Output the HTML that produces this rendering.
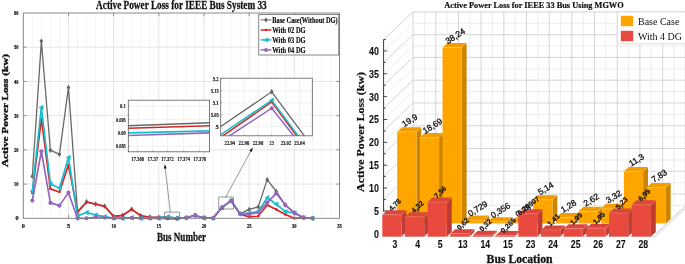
<!DOCTYPE html>
<html><head><meta charset="utf-8"><title>Active Power Loss</title>
<style>
html,body{margin:0;padding:0;background:#fff;}
body{width:685px;height:264px;overflow:hidden;font-family:"Liberation Sans",sans-serif;}
svg{display:block;filter:blur(0.4px);}
</style></head><body>
<svg width="685" height="264" viewBox="0 0 685 264">
<defs>
<clipPath id="clipL"><rect x="23.3" y="13.0" width="316.20" height="208.30"/></clipPath>
<clipPath id="clipJ"><rect x="220.7" y="78.2" width="91.60" height="57.60"/></clipPath>
</defs>
<rect width="685" height="264" fill="#fff"/>
<g id="left-chart">
<rect x="23.3" y="13.0" width="316.20" height="205.30" fill="#fff"/>
<line x1="32.33" y1="13.0" x2="32.33" y2="218.3" stroke="#f1f1f1" stroke-width="0.8"/>
<line x1="41.37" y1="13.0" x2="41.37" y2="218.3" stroke="#f1f1f1" stroke-width="0.8"/>
<line x1="50.40" y1="13.0" x2="50.40" y2="218.3" stroke="#f1f1f1" stroke-width="0.8"/>
<line x1="59.44" y1="13.0" x2="59.44" y2="218.3" stroke="#f1f1f1" stroke-width="0.8"/>
<line x1="77.51" y1="13.0" x2="77.51" y2="218.3" stroke="#f1f1f1" stroke-width="0.8"/>
<line x1="86.54" y1="13.0" x2="86.54" y2="218.3" stroke="#f1f1f1" stroke-width="0.8"/>
<line x1="95.57" y1="13.0" x2="95.57" y2="218.3" stroke="#f1f1f1" stroke-width="0.8"/>
<line x1="104.61" y1="13.0" x2="104.61" y2="218.3" stroke="#f1f1f1" stroke-width="0.8"/>
<line x1="122.68" y1="13.0" x2="122.68" y2="218.3" stroke="#f1f1f1" stroke-width="0.8"/>
<line x1="131.71" y1="13.0" x2="131.71" y2="218.3" stroke="#f1f1f1" stroke-width="0.8"/>
<line x1="140.75" y1="13.0" x2="140.75" y2="218.3" stroke="#f1f1f1" stroke-width="0.8"/>
<line x1="149.78" y1="13.0" x2="149.78" y2="218.3" stroke="#f1f1f1" stroke-width="0.8"/>
<line x1="167.85" y1="13.0" x2="167.85" y2="218.3" stroke="#f1f1f1" stroke-width="0.8"/>
<line x1="176.88" y1="13.0" x2="176.88" y2="218.3" stroke="#f1f1f1" stroke-width="0.8"/>
<line x1="185.92" y1="13.0" x2="185.92" y2="218.3" stroke="#f1f1f1" stroke-width="0.8"/>
<line x1="194.95" y1="13.0" x2="194.95" y2="218.3" stroke="#f1f1f1" stroke-width="0.8"/>
<line x1="213.02" y1="13.0" x2="213.02" y2="218.3" stroke="#f1f1f1" stroke-width="0.8"/>
<line x1="222.05" y1="13.0" x2="222.05" y2="218.3" stroke="#f1f1f1" stroke-width="0.8"/>
<line x1="231.09" y1="13.0" x2="231.09" y2="218.3" stroke="#f1f1f1" stroke-width="0.8"/>
<line x1="240.12" y1="13.0" x2="240.12" y2="218.3" stroke="#f1f1f1" stroke-width="0.8"/>
<line x1="258.19" y1="13.0" x2="258.19" y2="218.3" stroke="#f1f1f1" stroke-width="0.8"/>
<line x1="267.23" y1="13.0" x2="267.23" y2="218.3" stroke="#f1f1f1" stroke-width="0.8"/>
<line x1="276.26" y1="13.0" x2="276.26" y2="218.3" stroke="#f1f1f1" stroke-width="0.8"/>
<line x1="285.29" y1="13.0" x2="285.29" y2="218.3" stroke="#f1f1f1" stroke-width="0.8"/>
<line x1="303.36" y1="13.0" x2="303.36" y2="218.3" stroke="#f1f1f1" stroke-width="0.8"/>
<line x1="312.40" y1="13.0" x2="312.40" y2="218.3" stroke="#f1f1f1" stroke-width="0.8"/>
<line x1="321.43" y1="13.0" x2="321.43" y2="218.3" stroke="#f1f1f1" stroke-width="0.8"/>
<line x1="330.47" y1="13.0" x2="330.47" y2="218.3" stroke="#f1f1f1" stroke-width="0.8"/>
<line x1="68.47" y1="13.0" x2="68.47" y2="218.3" stroke="#e2e2e2" stroke-width="0.9"/>
<line x1="113.64" y1="13.0" x2="113.64" y2="218.3" stroke="#e2e2e2" stroke-width="0.9"/>
<line x1="158.81" y1="13.0" x2="158.81" y2="218.3" stroke="#e2e2e2" stroke-width="0.9"/>
<line x1="203.99" y1="13.0" x2="203.99" y2="218.3" stroke="#e2e2e2" stroke-width="0.9"/>
<line x1="249.16" y1="13.0" x2="249.16" y2="218.3" stroke="#e2e2e2" stroke-width="0.9"/>
<line x1="294.33" y1="13.0" x2="294.33" y2="218.3" stroke="#e2e2e2" stroke-width="0.9"/>
<line x1="23.3" y1="184.08" x2="339.5" y2="184.08" stroke="#e2e2e2" stroke-width="0.9"/>
<line x1="23.3" y1="149.87" x2="339.5" y2="149.87" stroke="#e2e2e2" stroke-width="0.9"/>
<line x1="23.3" y1="115.65" x2="339.5" y2="115.65" stroke="#e2e2e2" stroke-width="0.9"/>
<line x1="23.3" y1="81.43" x2="339.5" y2="81.43" stroke="#e2e2e2" stroke-width="0.9"/>
<line x1="23.3" y1="47.22" x2="339.5" y2="47.22" stroke="#e2e2e2" stroke-width="0.9"/>
<g clip-path="url(#clipL)">
<polyline points="32.33,176.42 41.37,41.09 50.40,150.21 59.44,154.31 68.47,87.42 77.51,211.76 86.54,201.74 95.57,204.00 104.61,206.12 113.64,216.42 122.68,215.29 131.71,209.16 140.75,215.80 149.78,217.07 158.81,217.34 167.85,217.44 176.88,218.13 185.92,217.75 194.95,215.46 203.99,217.96 213.02,218.16 222.05,207.42 231.09,200.71 240.12,213.89 249.16,209.40 258.19,206.91 267.23,179.64 276.26,191.51 285.29,204.96 294.33,212.86 303.36,217.58 312.40,218.27" fill="none" stroke="#686868" stroke-width="1.3" stroke-linejoin="round"/>
<path d="M32.33,173.72L34.23,176.42L32.33,179.12L30.43,176.42Z" fill="#686868"/>
<path d="M41.37,38.39L43.27,41.09L41.37,43.79L39.47,41.09Z" fill="#686868"/>
<path d="M50.40,147.51L52.30,150.21L50.40,152.91L48.50,150.21Z" fill="#686868"/>
<path d="M59.44,151.61L61.34,154.31L59.44,157.01L57.54,154.31Z" fill="#686868"/>
<path d="M68.47,84.72L70.37,87.42L68.47,90.12L66.57,87.42Z" fill="#686868"/>
<path d="M77.51,209.06L79.41,211.76L77.51,214.46L75.61,211.76Z" fill="#686868"/>
<path d="M86.54,199.04L88.44,201.74L86.54,204.44L84.64,201.74Z" fill="#686868"/>
<path d="M95.57,201.30L97.47,204.00L95.57,206.70L93.67,204.00Z" fill="#686868"/>
<path d="M104.61,203.42L106.51,206.12L104.61,208.82L102.71,206.12Z" fill="#686868"/>
<path d="M113.64,213.72L115.54,216.42L113.64,219.12L111.74,216.42Z" fill="#686868"/>
<path d="M122.68,212.59L124.58,215.29L122.68,217.99L120.78,215.29Z" fill="#686868"/>
<path d="M131.71,206.46L133.61,209.16L131.71,211.86L129.81,209.16Z" fill="#686868"/>
<path d="M140.75,213.10L142.65,215.80L140.75,218.50L138.85,215.80Z" fill="#686868"/>
<path d="M149.78,214.37L151.68,217.07L149.78,219.77L147.88,217.07Z" fill="#686868"/>
<path d="M158.81,214.64L160.71,217.34L158.81,220.04L156.91,217.34Z" fill="#686868"/>
<path d="M167.85,214.74L169.75,217.44L167.85,220.14L165.95,217.44Z" fill="#686868"/>
<path d="M176.88,215.43L178.78,218.13L176.88,220.83L174.98,218.13Z" fill="#686868"/>
<path d="M185.92,215.05L187.82,217.75L185.92,220.45L184.02,217.75Z" fill="#686868"/>
<path d="M194.95,212.76L196.85,215.46L194.95,218.16L193.05,215.46Z" fill="#686868"/>
<path d="M203.99,215.26L205.89,217.96L203.99,220.66L202.09,217.96Z" fill="#686868"/>
<path d="M213.02,215.46L214.92,218.16L213.02,220.86L211.12,218.16Z" fill="#686868"/>
<path d="M222.05,204.72L223.95,207.42L222.05,210.12L220.15,207.42Z" fill="#686868"/>
<path d="M231.09,198.01L232.99,200.71L231.09,203.41L229.19,200.71Z" fill="#686868"/>
<path d="M240.12,211.19L242.02,213.89L240.12,216.59L238.22,213.89Z" fill="#686868"/>
<path d="M249.16,206.70L251.06,209.40L249.16,212.10L247.26,209.40Z" fill="#686868"/>
<path d="M258.19,204.21L260.09,206.91L258.19,209.61L256.29,206.91Z" fill="#686868"/>
<path d="M267.23,176.94L269.13,179.64L267.23,182.34L265.33,179.64Z" fill="#686868"/>
<path d="M276.26,188.81L278.16,191.51L276.26,194.21L274.36,191.51Z" fill="#686868"/>
<path d="M285.29,202.26L287.19,204.96L285.29,207.66L283.39,204.96Z" fill="#686868"/>
<path d="M294.33,210.16L296.23,212.86L294.33,215.56L292.43,212.86Z" fill="#686868"/>
<path d="M303.36,214.88L305.26,217.58L303.36,220.28L301.46,217.58Z" fill="#686868"/>
<path d="M312.40,215.57L314.30,218.27L312.40,220.97L310.50,218.27Z" fill="#686868"/>
<polyline points="32.33,192.98 41.37,118.73 50.40,188.87 59.44,191.95 68.47,164.92 77.51,212.14 86.54,202.22 95.57,204.27 104.61,206.32 113.64,216.42 122.68,215.29 131.71,209.40 140.75,215.80 149.78,217.07 158.81,217.34 167.85,217.44 176.88,218.13 185.92,217.75 194.95,215.46 203.99,217.96 213.02,218.16 222.05,207.42 231.09,200.71 240.12,214.19 249.16,216.93 258.19,216.25 267.23,204.96 276.26,209.40 285.29,214.54 294.33,218.30 303.36,217.96 312.40,218.30" fill="none" stroke="#d62728" stroke-width="1.7" stroke-linejoin="round"/>
<circle cx="32.33" cy="192.98" r="1.3" fill="#d62728"/>
<circle cx="41.37" cy="118.73" r="1.3" fill="#d62728"/>
<circle cx="50.40" cy="188.87" r="1.3" fill="#d62728"/>
<circle cx="59.44" cy="191.95" r="1.3" fill="#d62728"/>
<circle cx="68.47" cy="164.92" r="1.3" fill="#d62728"/>
<circle cx="77.51" cy="212.14" r="1.3" fill="#d62728"/>
<circle cx="86.54" cy="202.22" r="1.3" fill="#d62728"/>
<circle cx="95.57" cy="204.27" r="1.3" fill="#d62728"/>
<circle cx="104.61" cy="206.32" r="1.3" fill="#d62728"/>
<circle cx="113.64" cy="216.42" r="1.3" fill="#d62728"/>
<circle cx="122.68" cy="215.29" r="1.3" fill="#d62728"/>
<circle cx="131.71" cy="209.40" r="1.3" fill="#d62728"/>
<circle cx="140.75" cy="215.80" r="1.3" fill="#d62728"/>
<circle cx="149.78" cy="217.07" r="1.3" fill="#d62728"/>
<circle cx="158.81" cy="217.34" r="1.3" fill="#d62728"/>
<circle cx="167.85" cy="217.44" r="1.3" fill="#d62728"/>
<circle cx="176.88" cy="218.13" r="1.3" fill="#d62728"/>
<circle cx="185.92" cy="217.75" r="1.3" fill="#d62728"/>
<circle cx="194.95" cy="215.46" r="1.3" fill="#d62728"/>
<circle cx="203.99" cy="217.96" r="1.3" fill="#d62728"/>
<circle cx="213.02" cy="218.16" r="1.3" fill="#d62728"/>
<circle cx="222.05" cy="207.42" r="1.3" fill="#d62728"/>
<circle cx="231.09" cy="200.71" r="1.3" fill="#d62728"/>
<circle cx="240.12" cy="214.19" r="1.3" fill="#d62728"/>
<circle cx="249.16" cy="216.93" r="1.3" fill="#d62728"/>
<circle cx="258.19" cy="216.25" r="1.3" fill="#d62728"/>
<circle cx="267.23" cy="204.96" r="1.3" fill="#d62728"/>
<circle cx="276.26" cy="209.40" r="1.3" fill="#d62728"/>
<circle cx="285.29" cy="214.54" r="1.3" fill="#d62728"/>
<circle cx="294.33" cy="218.30" r="1.3" fill="#d62728"/>
<circle cx="303.36" cy="217.96" r="1.3" fill="#d62728"/>
<circle cx="312.40" cy="218.30" r="1.3" fill="#d62728"/>
<polyline points="32.33,191.27 41.37,107.44 50.40,183.74 59.44,188.19 68.47,157.39 77.51,215.90 86.54,212.48 95.57,214.88 104.61,216.59 113.64,218.13 122.68,218.13 131.71,217.79 140.75,218.13 149.78,218.13 158.81,218.13 167.85,216.76 176.88,218.13 185.92,217.75 194.95,215.46 203.99,217.96 213.02,218.16 222.05,207.42 231.09,200.71 240.12,213.89 249.16,213.17 258.19,211.46 267.23,197.77 276.26,204.27 285.29,211.46 294.33,213.00 303.36,217.58 312.40,218.27" fill="none" stroke="#17becf" stroke-width="1.7" stroke-linejoin="round"/>
<path d="M29.63,191.27L34.49,188.57L34.49,193.97Z" fill="#17becf"/>
<path d="M38.67,107.44L43.53,104.74L43.53,110.14Z" fill="#17becf"/>
<path d="M47.70,183.74L52.56,181.04L52.56,186.44Z" fill="#17becf"/>
<path d="M56.74,188.19L61.60,185.49L61.60,190.89Z" fill="#17becf"/>
<path d="M65.77,157.39L70.63,154.69L70.63,160.09Z" fill="#17becf"/>
<path d="M74.81,215.90L79.67,213.20L79.67,218.60Z" fill="#17becf"/>
<path d="M83.84,212.48L88.70,209.78L88.70,215.18Z" fill="#17becf"/>
<path d="M92.87,214.88L97.73,212.18L97.73,217.58Z" fill="#17becf"/>
<path d="M101.91,216.59L106.77,213.89L106.77,219.29Z" fill="#17becf"/>
<path d="M110.94,218.13L115.80,215.43L115.80,220.83Z" fill="#17becf"/>
<path d="M119.98,218.13L124.84,215.43L124.84,220.83Z" fill="#17becf"/>
<path d="M129.01,217.79L133.87,215.09L133.87,220.49Z" fill="#17becf"/>
<path d="M138.05,218.13L142.91,215.43L142.91,220.83Z" fill="#17becf"/>
<path d="M147.08,218.13L151.94,215.43L151.94,220.83Z" fill="#17becf"/>
<path d="M156.11,218.13L160.97,215.43L160.97,220.83Z" fill="#17becf"/>
<path d="M165.15,216.76L170.01,214.06L170.01,219.46Z" fill="#17becf"/>
<path d="M174.18,218.13L179.04,215.43L179.04,220.83Z" fill="#17becf"/>
<path d="M183.22,217.75L188.08,215.05L188.08,220.45Z" fill="#17becf"/>
<path d="M192.25,215.46L197.11,212.76L197.11,218.16Z" fill="#17becf"/>
<path d="M201.29,217.96L206.15,215.26L206.15,220.66Z" fill="#17becf"/>
<path d="M210.32,218.16L215.18,215.46L215.18,220.86Z" fill="#17becf"/>
<path d="M219.35,207.42L224.21,204.72L224.21,210.12Z" fill="#17becf"/>
<path d="M228.39,200.71L233.25,198.01L233.25,203.41Z" fill="#17becf"/>
<path d="M237.42,213.89L242.28,211.19L242.28,216.59Z" fill="#17becf"/>
<path d="M246.46,213.17L251.32,210.47L251.32,215.87Z" fill="#17becf"/>
<path d="M255.49,211.46L260.35,208.76L260.35,214.16Z" fill="#17becf"/>
<path d="M264.53,197.77L269.39,195.07L269.39,200.47Z" fill="#17becf"/>
<path d="M273.56,204.27L278.42,201.57L278.42,206.97Z" fill="#17becf"/>
<path d="M282.59,211.46L287.45,208.76L287.45,214.16Z" fill="#17becf"/>
<path d="M291.63,213.00L296.49,210.30L296.49,215.70Z" fill="#17becf"/>
<path d="M300.66,217.58L305.52,214.88L305.52,220.28Z" fill="#17becf"/>
<path d="M309.70,218.27L314.56,215.57L314.56,220.97Z" fill="#17becf"/>
<polyline points="32.33,200.51 41.37,151.24 50.40,202.90 59.44,205.64 68.47,192.64 77.51,218.30 86.54,218.30 95.57,217.27 104.61,217.62 113.64,218.30 122.68,218.30 131.71,217.79 140.75,218.30 149.78,218.30 158.81,218.30 167.85,218.30 176.88,218.81 185.92,217.75 194.95,215.46 203.99,217.96 213.02,218.16 222.05,207.42 231.09,200.71 240.12,213.89 249.16,214.19 258.19,212.48 267.23,202.56 276.26,193.32 285.29,204.96 294.33,212.86 303.36,217.58 312.40,218.27" fill="none" stroke="#9467bd" stroke-width="1.7" stroke-linejoin="round"/>
<circle cx="32.33" cy="200.51" r="2.1" fill="#9467bd"/>
<circle cx="41.37" cy="151.24" r="2.1" fill="#9467bd"/>
<circle cx="50.40" cy="202.90" r="2.1" fill="#9467bd"/>
<circle cx="59.44" cy="205.64" r="2.1" fill="#9467bd"/>
<circle cx="68.47" cy="192.64" r="2.1" fill="#9467bd"/>
<circle cx="77.51" cy="218.30" r="2.1" fill="#9467bd"/>
<circle cx="86.54" cy="218.30" r="2.1" fill="#9467bd"/>
<circle cx="95.57" cy="217.27" r="2.1" fill="#9467bd"/>
<circle cx="104.61" cy="217.62" r="2.1" fill="#9467bd"/>
<circle cx="113.64" cy="218.30" r="2.1" fill="#9467bd"/>
<circle cx="122.68" cy="218.30" r="2.1" fill="#9467bd"/>
<circle cx="131.71" cy="217.79" r="2.1" fill="#9467bd"/>
<circle cx="140.75" cy="218.30" r="2.1" fill="#9467bd"/>
<circle cx="149.78" cy="218.30" r="2.1" fill="#9467bd"/>
<circle cx="158.81" cy="218.30" r="2.1" fill="#9467bd"/>
<circle cx="167.85" cy="218.30" r="2.1" fill="#9467bd"/>
<circle cx="176.88" cy="218.81" r="2.1" fill="#9467bd"/>
<circle cx="185.92" cy="217.75" r="2.1" fill="#9467bd"/>
<circle cx="194.95" cy="215.46" r="2.1" fill="#9467bd"/>
<circle cx="203.99" cy="217.96" r="2.1" fill="#9467bd"/>
<circle cx="213.02" cy="218.16" r="2.1" fill="#9467bd"/>
<circle cx="222.05" cy="207.42" r="2.1" fill="#9467bd"/>
<circle cx="231.09" cy="200.71" r="2.1" fill="#9467bd"/>
<circle cx="240.12" cy="213.89" r="2.1" fill="#9467bd"/>
<circle cx="249.16" cy="214.19" r="2.1" fill="#9467bd"/>
<circle cx="258.19" cy="212.48" r="2.1" fill="#9467bd"/>
<circle cx="267.23" cy="202.56" r="2.1" fill="#9467bd"/>
<circle cx="276.26" cy="193.32" r="2.1" fill="#9467bd"/>
<circle cx="285.29" cy="204.96" r="2.1" fill="#9467bd"/>
<circle cx="294.33" cy="212.86" r="2.1" fill="#9467bd"/>
<circle cx="303.36" cy="217.58" r="2.1" fill="#9467bd"/>
<circle cx="312.40" cy="218.27" r="2.1" fill="#9467bd"/>
</g>
<rect x="23.3" y="13.0" width="316.20" height="205.30" fill="none" stroke="#7c7c7c" stroke-width="0.9"/>
<line x1="68.47" y1="218.3" x2="68.47" y2="215.10000000000002" stroke="#7c7c7c" stroke-width="0.8"/>
<line x1="68.47" y1="13.0" x2="68.47" y2="16.2" stroke="#7c7c7c" stroke-width="0.8"/>
<line x1="113.64" y1="218.3" x2="113.64" y2="215.10000000000002" stroke="#7c7c7c" stroke-width="0.8"/>
<line x1="113.64" y1="13.0" x2="113.64" y2="16.2" stroke="#7c7c7c" stroke-width="0.8"/>
<line x1="158.81" y1="218.3" x2="158.81" y2="215.10000000000002" stroke="#7c7c7c" stroke-width="0.8"/>
<line x1="158.81" y1="13.0" x2="158.81" y2="16.2" stroke="#7c7c7c" stroke-width="0.8"/>
<line x1="203.99" y1="218.3" x2="203.99" y2="215.10000000000002" stroke="#7c7c7c" stroke-width="0.8"/>
<line x1="203.99" y1="13.0" x2="203.99" y2="16.2" stroke="#7c7c7c" stroke-width="0.8"/>
<line x1="249.16" y1="218.3" x2="249.16" y2="215.10000000000002" stroke="#7c7c7c" stroke-width="0.8"/>
<line x1="249.16" y1="13.0" x2="249.16" y2="16.2" stroke="#7c7c7c" stroke-width="0.8"/>
<line x1="294.33" y1="218.3" x2="294.33" y2="215.10000000000002" stroke="#7c7c7c" stroke-width="0.8"/>
<line x1="294.33" y1="13.0" x2="294.33" y2="16.2" stroke="#7c7c7c" stroke-width="0.8"/>
<line x1="23.3" y1="184.08" x2="26.5" y2="184.08" stroke="#7c7c7c" stroke-width="0.8"/>
<line x1="339.5" y1="184.08" x2="336.3" y2="184.08" stroke="#7c7c7c" stroke-width="0.8"/>
<line x1="23.3" y1="149.87" x2="26.5" y2="149.87" stroke="#7c7c7c" stroke-width="0.8"/>
<line x1="339.5" y1="149.87" x2="336.3" y2="149.87" stroke="#7c7c7c" stroke-width="0.8"/>
<line x1="23.3" y1="115.65" x2="26.5" y2="115.65" stroke="#7c7c7c" stroke-width="0.8"/>
<line x1="339.5" y1="115.65" x2="336.3" y2="115.65" stroke="#7c7c7c" stroke-width="0.8"/>
<line x1="23.3" y1="81.43" x2="26.5" y2="81.43" stroke="#7c7c7c" stroke-width="0.8"/>
<line x1="339.5" y1="81.43" x2="336.3" y2="81.43" stroke="#7c7c7c" stroke-width="0.8"/>
<line x1="23.3" y1="47.22" x2="26.5" y2="47.22" stroke="#7c7c7c" stroke-width="0.8"/>
<line x1="339.5" y1="47.22" x2="336.3" y2="47.22" stroke="#7c7c7c" stroke-width="0.8"/>
<text x="23.30" y="227.80" font-size="6.3" font-family="Liberation Serif, serif" font-weight="bold" text-anchor="middle" fill="#111"  stroke="#111" stroke-width="0.22">0</text>
<text x="68.47" y="227.80" font-size="6.3" font-family="Liberation Serif, serif" font-weight="bold" text-anchor="middle" fill="#111"  stroke="#111" stroke-width="0.22">5</text>
<text x="113.64" y="227.80" font-size="6.3" font-family="Liberation Serif, serif" font-weight="bold" text-anchor="middle" fill="#111" textLength="4.50" lengthAdjust="spacingAndGlyphs"  stroke="#111" stroke-width="0.22">10</text>
<text x="158.81" y="227.80" font-size="6.3" font-family="Liberation Serif, serif" font-weight="bold" text-anchor="middle" fill="#111" textLength="4.50" lengthAdjust="spacingAndGlyphs"  stroke="#111" stroke-width="0.22">15</text>
<text x="203.99" y="227.80" font-size="6.3" font-family="Liberation Serif, serif" font-weight="bold" text-anchor="middle" fill="#111" textLength="4.50" lengthAdjust="spacingAndGlyphs"  stroke="#111" stroke-width="0.22">20</text>
<text x="249.16" y="227.80" font-size="6.3" font-family="Liberation Serif, serif" font-weight="bold" text-anchor="middle" fill="#111" textLength="4.50" lengthAdjust="spacingAndGlyphs"  stroke="#111" stroke-width="0.22">25</text>
<text x="294.33" y="227.80" font-size="6.3" font-family="Liberation Serif, serif" font-weight="bold" text-anchor="middle" fill="#111" textLength="4.50" lengthAdjust="spacingAndGlyphs"  stroke="#111" stroke-width="0.22">30</text>
<text x="339.50" y="227.80" font-size="6.3" font-family="Liberation Serif, serif" font-weight="bold" text-anchor="middle" fill="#111" textLength="4.50" lengthAdjust="spacingAndGlyphs"  stroke="#111" stroke-width="0.22">35</text>
<text x="18.60" y="220.40" font-size="6.3" font-family="Liberation Serif, serif" font-weight="bold" text-anchor="end" fill="#111"  stroke="#111" stroke-width="0.22">0</text>
<text x="18.60" y="186.18" font-size="6.3" font-family="Liberation Serif, serif" font-weight="bold" text-anchor="end" fill="#111" textLength="4.50" lengthAdjust="spacingAndGlyphs"  stroke="#111" stroke-width="0.22">10</text>
<text x="18.60" y="151.97" font-size="6.3" font-family="Liberation Serif, serif" font-weight="bold" text-anchor="end" fill="#111" textLength="4.50" lengthAdjust="spacingAndGlyphs"  stroke="#111" stroke-width="0.22">20</text>
<text x="18.60" y="117.75" font-size="6.3" font-family="Liberation Serif, serif" font-weight="bold" text-anchor="end" fill="#111" textLength="4.50" lengthAdjust="spacingAndGlyphs"  stroke="#111" stroke-width="0.22">30</text>
<text x="18.60" y="83.53" font-size="6.3" font-family="Liberation Serif, serif" font-weight="bold" text-anchor="end" fill="#111" textLength="4.50" lengthAdjust="spacingAndGlyphs"  stroke="#111" stroke-width="0.22">40</text>
<text x="18.60" y="49.32" font-size="6.3" font-family="Liberation Serif, serif" font-weight="bold" text-anchor="end" fill="#111" textLength="4.50" lengthAdjust="spacingAndGlyphs"  stroke="#111" stroke-width="0.22">50</text>
<text x="18.60" y="15.10" font-size="6.3" font-family="Liberation Serif, serif" font-weight="bold" text-anchor="end" fill="#111" textLength="4.50" lengthAdjust="spacingAndGlyphs"  stroke="#111" stroke-width="0.22">60</text>
<text x="181.40" y="8.90" font-size="11.6" font-family="Liberation Serif, serif" font-weight="bold" text-anchor="middle" fill="#111" textLength="170.60" lengthAdjust="spacingAndGlyphs"  stroke="#111" stroke-width="0.26">Active Power Loss for IEEE Bus System 33</text>
<text x="181.50" y="240.60" font-size="12.2" font-family="Liberation Serif, serif" font-weight="bold" text-anchor="middle" fill="#111" textLength="49.20" lengthAdjust="spacingAndGlyphs"  stroke="#111" stroke-width="0.27">Bus Number</text>
<g transform="translate(8.3,110.5) rotate(-90)">
<text x="0.00" y="0.00" font-size="8.6" font-family="Liberation Serif, serif" font-weight="bold" text-anchor="middle" fill="#111" textLength="113.00" lengthAdjust="spacingAndGlyphs" stroke="#111" stroke-width="0.35">Active Power Loss (kw)</text>
</g>
<rect x="164.8" y="212.1" width="14.6" height="6.9" fill="none" stroke="#555" stroke-width="0.6"/>
<rect x="218.8" y="197.0" width="14.5" height="12" fill="none" stroke="#555" stroke-width="0.6"/>
<line x1="170.3" y1="212.0" x2="164.8" y2="164.5" stroke="#333" stroke-width="0.5"/>
<path d="M164.80,164.50L166.65,168.31L163.87,168.63Z" fill="#111"/>
<line x1="225.5" y1="197.5" x2="252.6" y2="147.7" stroke="#333" stroke-width="0.5"/>
<path d="M252.60,147.70L251.92,151.88L249.46,150.54Z" fill="#111"/>
<rect x="128.3" y="100.2" width="81.30" height="51.60" fill="#fff"/>
<line x1="137.7" y1="100.2" x2="137.7" y2="151.8" stroke="#eeeeee" stroke-width="0.8"/>
<line x1="152.8" y1="100.2" x2="152.8" y2="151.8" stroke="#eeeeee" stroke-width="0.8"/>
<line x1="167.5" y1="100.2" x2="167.5" y2="151.8" stroke="#eeeeee" stroke-width="0.8"/>
<line x1="183.7" y1="100.2" x2="183.7" y2="151.8" stroke="#eeeeee" stroke-width="0.8"/>
<line x1="199.7" y1="100.2" x2="199.7" y2="151.8" stroke="#eeeeee" stroke-width="0.8"/>
<line x1="128.3" y1="106.2" x2="209.6" y2="106.2" stroke="#eeeeee" stroke-width="0.8"/>
<line x1="128.3" y1="119.6" x2="209.6" y2="119.6" stroke="#eeeeee" stroke-width="0.8"/>
<line x1="128.3" y1="133.2" x2="209.6" y2="133.2" stroke="#eeeeee" stroke-width="0.8"/>
<line x1="128.3" y1="146.3" x2="209.6" y2="146.3" stroke="#eeeeee" stroke-width="0.8"/>
<line x1="128.3" y1="125.8" x2="209.6" y2="122.7" stroke="#686868" stroke-width="1.4"/>
<line x1="128.3" y1="128.2" x2="209.6" y2="125.8" stroke="#d62728" stroke-width="1.6"/>
<line x1="128.3" y1="132.9" x2="209.6" y2="130.9" stroke="#17becf" stroke-width="1.6"/>
<line x1="128.3" y1="135.5" x2="209.6" y2="132.9" stroke="#9467bd" stroke-width="1.6"/>
<rect x="128.3" y="100.2" width="81.30" height="51.60" fill="none" stroke="#5c5c5c" stroke-width="0.8"/>
<line x1="137.7" y1="151.8" x2="137.7" y2="150.3" stroke="#7c7c7c" stroke-width="0.6"/>
<text x="137.70" y="161.30" font-size="6.4" font-family="Liberation Serif, serif" font-weight="bold" text-anchor="middle" fill="#111" textLength="12.60" lengthAdjust="spacingAndGlyphs"  stroke="#111" stroke-width="0.14">17.368</text>
<line x1="152.8" y1="151.8" x2="152.8" y2="150.3" stroke="#7c7c7c" stroke-width="0.6"/>
<text x="152.80" y="161.30" font-size="6.4" font-family="Liberation Serif, serif" font-weight="bold" text-anchor="middle" fill="#111" textLength="10.50" lengthAdjust="spacingAndGlyphs"  stroke="#111" stroke-width="0.14">17.37</text>
<line x1="167.5" y1="151.8" x2="167.5" y2="150.3" stroke="#7c7c7c" stroke-width="0.6"/>
<text x="167.50" y="161.30" font-size="6.4" font-family="Liberation Serif, serif" font-weight="bold" text-anchor="middle" fill="#111" textLength="12.60" lengthAdjust="spacingAndGlyphs"  stroke="#111" stroke-width="0.14">17.372</text>
<line x1="183.7" y1="151.8" x2="183.7" y2="150.3" stroke="#7c7c7c" stroke-width="0.6"/>
<text x="183.70" y="161.30" font-size="6.4" font-family="Liberation Serif, serif" font-weight="bold" text-anchor="middle" fill="#111" textLength="12.60" lengthAdjust="spacingAndGlyphs"  stroke="#111" stroke-width="0.14">17.374</text>
<line x1="199.7" y1="151.8" x2="199.7" y2="150.3" stroke="#7c7c7c" stroke-width="0.6"/>
<text x="199.70" y="161.30" font-size="6.4" font-family="Liberation Serif, serif" font-weight="bold" text-anchor="middle" fill="#111" textLength="12.60" lengthAdjust="spacingAndGlyphs"  stroke="#111" stroke-width="0.14">17.376</text>
<line x1="128.3" y1="106.2" x2="129.8" y2="106.2" stroke="#7c7c7c" stroke-width="0.6"/>
<text x="125.80" y="108.20" font-size="6.5" font-family="Liberation Serif, serif" font-weight="bold" text-anchor="end" fill="#111" textLength="5.91" lengthAdjust="spacingAndGlyphs"  stroke="#111" stroke-width="0.14">0.1</text>
<line x1="128.3" y1="119.6" x2="129.8" y2="119.6" stroke="#7c7c7c" stroke-width="0.6"/>
<text x="125.80" y="121.60" font-size="6.5" font-family="Liberation Serif, serif" font-weight="bold" text-anchor="end" fill="#111" textLength="9.85" lengthAdjust="spacingAndGlyphs"  stroke="#111" stroke-width="0.14">0.095</text>
<line x1="128.3" y1="133.2" x2="129.8" y2="133.2" stroke="#7c7c7c" stroke-width="0.6"/>
<text x="125.80" y="135.20" font-size="6.5" font-family="Liberation Serif, serif" font-weight="bold" text-anchor="end" fill="#111" textLength="7.88" lengthAdjust="spacingAndGlyphs"  stroke="#111" stroke-width="0.14">0.09</text>
<line x1="128.3" y1="146.3" x2="129.8" y2="146.3" stroke="#7c7c7c" stroke-width="0.6"/>
<text x="125.80" y="148.30" font-size="6.5" font-family="Liberation Serif, serif" font-weight="bold" text-anchor="end" fill="#111" textLength="9.85" lengthAdjust="spacingAndGlyphs"  stroke="#111" stroke-width="0.14">0.085</text>
<rect x="220.7" y="78.2" width="91.60" height="57.60" fill="#fff"/>
<line x1="229.8" y1="78.2" x2="229.8" y2="135.8" stroke="#eeeeee" stroke-width="0.8"/>
<line x1="243.8" y1="78.2" x2="243.8" y2="135.8" stroke="#eeeeee" stroke-width="0.8"/>
<line x1="258.0" y1="78.2" x2="258.0" y2="135.8" stroke="#eeeeee" stroke-width="0.8"/>
<line x1="271.7" y1="78.2" x2="271.7" y2="135.8" stroke="#eeeeee" stroke-width="0.8"/>
<line x1="285.9" y1="78.2" x2="285.9" y2="135.8" stroke="#eeeeee" stroke-width="0.8"/>
<line x1="299.5" y1="78.2" x2="299.5" y2="135.8" stroke="#eeeeee" stroke-width="0.8"/>
<line x1="220.7" y1="90.8" x2="312.3" y2="90.8" stroke="#eeeeee" stroke-width="0.8"/>
<line x1="220.7" y1="102.8" x2="312.3" y2="102.8" stroke="#eeeeee" stroke-width="0.8"/>
<line x1="220.7" y1="114.7" x2="312.3" y2="114.7" stroke="#eeeeee" stroke-width="0.8"/>
<line x1="220.7" y1="126.6" x2="312.3" y2="126.6" stroke="#eeeeee" stroke-width="0.8"/>
<g clip-path="url(#clipJ)">
<polyline points="210.62,133.32 271.7,91.8 310.94,144.84" fill="none" stroke="#686868" stroke-width="1.3" stroke-linejoin="miter"/>
<polyline points="212.78,142.80 271.7,102.0 301.82,142.80" fill="none" stroke="#d62728" stroke-width="1.5" stroke-linejoin="miter"/>
<polyline points="210.62,141.34 271.7,100.3 303.62,143.14" fill="none" stroke="#17becf" stroke-width="1.5" stroke-linejoin="miter"/>
<polyline points="220.70,141.56 271.7,108.2 298.22,141.56" fill="none" stroke="#9467bd" stroke-width="1.5" stroke-linejoin="miter"/>
<path d="M271.70,89.10L273.60,91.80L271.70,94.50L269.80,91.80Z" fill="#686868"/>
<circle cx="271.70" cy="102.00" r="1.3" fill="#d62728"/>
<path d="M269.00,100.30L273.86,97.60L273.86,103.00Z" fill="#17becf"/>
<circle cx="271.70" cy="108.20" r="2.0" fill="#9467bd"/>
</g>
<rect x="220.7" y="78.2" width="91.60" height="57.60" fill="none" stroke="#5c5c5c" stroke-width="0.8"/>
<line x1="229.8" y1="135.8" x2="229.8" y2="134.3" stroke="#7c7c7c" stroke-width="0.6"/>
<text x="229.80" y="145.00" font-size="6.4" font-family="Liberation Serif, serif" font-weight="bold" text-anchor="middle" fill="#111" textLength="10.50" lengthAdjust="spacingAndGlyphs"  stroke="#111" stroke-width="0.14">22.94</text>
<line x1="243.8" y1="135.8" x2="243.8" y2="134.3" stroke="#7c7c7c" stroke-width="0.6"/>
<text x="243.80" y="145.00" font-size="6.4" font-family="Liberation Serif, serif" font-weight="bold" text-anchor="middle" fill="#111" textLength="10.50" lengthAdjust="spacingAndGlyphs"  stroke="#111" stroke-width="0.14">22.96</text>
<line x1="258.0" y1="135.8" x2="258.0" y2="134.3" stroke="#7c7c7c" stroke-width="0.6"/>
<text x="258.00" y="145.00" font-size="6.4" font-family="Liberation Serif, serif" font-weight="bold" text-anchor="middle" fill="#111" textLength="10.50" lengthAdjust="spacingAndGlyphs"  stroke="#111" stroke-width="0.14">22.98</text>
<line x1="271.7" y1="135.8" x2="271.7" y2="134.3" stroke="#7c7c7c" stroke-width="0.6"/>
<text x="271.70" y="145.00" font-size="6.4" font-family="Liberation Serif, serif" font-weight="bold" text-anchor="middle" fill="#111" textLength="4.20" lengthAdjust="spacingAndGlyphs"  stroke="#111" stroke-width="0.14">23</text>
<line x1="285.9" y1="135.8" x2="285.9" y2="134.3" stroke="#7c7c7c" stroke-width="0.6"/>
<text x="285.90" y="145.00" font-size="6.4" font-family="Liberation Serif, serif" font-weight="bold" text-anchor="middle" fill="#111" textLength="10.50" lengthAdjust="spacingAndGlyphs"  stroke="#111" stroke-width="0.14">23.02</text>
<line x1="299.5" y1="135.8" x2="299.5" y2="134.3" stroke="#7c7c7c" stroke-width="0.6"/>
<text x="299.50" y="145.00" font-size="6.4" font-family="Liberation Serif, serif" font-weight="bold" text-anchor="middle" fill="#111" textLength="10.50" lengthAdjust="spacingAndGlyphs"  stroke="#111" stroke-width="0.14">23.04</text>
<line x1="220.7" y1="78.9" x2="222.2" y2="78.9" stroke="#7c7c7c" stroke-width="0.6"/>
<text x="218.70" y="80.90" font-size="6.5" font-family="Liberation Serif, serif" font-weight="bold" text-anchor="end" fill="#111" textLength="5.91" lengthAdjust="spacingAndGlyphs"  stroke="#111" stroke-width="0.14">5.2</text>
<line x1="220.7" y1="90.8" x2="222.2" y2="90.8" stroke="#7c7c7c" stroke-width="0.6"/>
<text x="218.70" y="92.80" font-size="6.5" font-family="Liberation Serif, serif" font-weight="bold" text-anchor="end" fill="#111" textLength="7.88" lengthAdjust="spacingAndGlyphs"  stroke="#111" stroke-width="0.14">5.15</text>
<line x1="220.7" y1="102.8" x2="222.2" y2="102.8" stroke="#7c7c7c" stroke-width="0.6"/>
<text x="218.70" y="104.80" font-size="6.5" font-family="Liberation Serif, serif" font-weight="bold" text-anchor="end" fill="#111" textLength="5.91" lengthAdjust="spacingAndGlyphs"  stroke="#111" stroke-width="0.14">5.1</text>
<line x1="220.7" y1="114.7" x2="222.2" y2="114.7" stroke="#7c7c7c" stroke-width="0.6"/>
<text x="218.70" y="116.70" font-size="6.5" font-family="Liberation Serif, serif" font-weight="bold" text-anchor="end" fill="#111" textLength="7.88" lengthAdjust="spacingAndGlyphs"  stroke="#111" stroke-width="0.14">5.05</text>
<line x1="220.7" y1="126.6" x2="222.2" y2="126.6" stroke="#7c7c7c" stroke-width="0.6"/>
<text x="218.70" y="128.60" font-size="6.5" font-family="Liberation Serif, serif" font-weight="bold" text-anchor="end" fill="#111"  stroke="#111" stroke-width="0.14">5</text>
<rect x="258.8" y="14.5" width="80" height="40.5" fill="#fff" stroke="#555" stroke-width="0.7"/>
<line x1="260.6" y1="19.9" x2="271.4" y2="19.9" stroke="#686868" stroke-width="1.0"/>
<path d="M266.00,17.20L267.90,19.90L266.00,22.60L264.10,19.90Z" fill="#686868"/>
<text x="272.20" y="22.50" font-size="8.1" font-family="Liberation Serif, serif" font-weight="bold" text-anchor="start" fill="#111" textLength="65.50" lengthAdjust="spacingAndGlyphs"  stroke="#111" stroke-width="0.18">Base Case(Without DG)</text>
<line x1="260.6" y1="30.0" x2="271.4" y2="30.0" stroke="#d62728" stroke-width="1.5"/>
<circle cx="266.00" cy="30.00" r="1.3" fill="#d62728"/>
<text x="272.20" y="32.60" font-size="8.1" font-family="Liberation Serif, serif" font-weight="bold" text-anchor="start" fill="#111" textLength="33.50" lengthAdjust="spacingAndGlyphs"  stroke="#111" stroke-width="0.18">With 02 DG</text>
<line x1="260.6" y1="39.9" x2="271.4" y2="39.9" stroke="#17becf" stroke-width="1.5"/>
<path d="M263.30,39.90L268.16,37.20L268.16,42.60Z" fill="#17becf"/>
<text x="272.20" y="42.50" font-size="8.1" font-family="Liberation Serif, serif" font-weight="bold" text-anchor="start" fill="#111" textLength="33.50" lengthAdjust="spacingAndGlyphs"  stroke="#111" stroke-width="0.18">With 03 DG</text>
<line x1="260.6" y1="49.9" x2="271.4" y2="49.9" stroke="#9467bd" stroke-width="1.5"/>
<circle cx="266.00" cy="49.90" r="2.0" fill="#9467bd"/>
<text x="272.20" y="52.50" font-size="8.1" font-family="Liberation Serif, serif" font-weight="bold" text-anchor="start" fill="#111" textLength="33.50" lengthAdjust="spacingAndGlyphs"  stroke="#111" stroke-width="0.18">With 04 DG</text>
</g>
<g id="right-chart">
<rect x="413.10" y="11.90" width="276.90" height="194.14" fill="#fff"/>
<line x1="413.10" y1="11.90" x2="687" y2="11.90" stroke="#cacaca" stroke-width="0.8"/>
<line x1="383.60" y1="39.50" x2="413.10" y2="11.90" stroke="#cacaca" stroke-width="0.8"/>
<line x1="413.10" y1="23.28" x2="687" y2="23.28" stroke="#e8e8e8" stroke-width="0.8"/>
<line x1="383.60" y1="50.93" x2="413.10" y2="23.28" stroke="#e8e8e8" stroke-width="0.8"/>
<line x1="413.10" y1="34.67" x2="687" y2="34.67" stroke="#cacaca" stroke-width="0.8"/>
<line x1="383.60" y1="62.36" x2="413.10" y2="34.67" stroke="#cacaca" stroke-width="0.8"/>
<line x1="413.10" y1="46.05" x2="687" y2="46.05" stroke="#e8e8e8" stroke-width="0.8"/>
<line x1="383.60" y1="73.79" x2="413.10" y2="46.05" stroke="#e8e8e8" stroke-width="0.8"/>
<line x1="413.10" y1="57.44" x2="687" y2="57.44" stroke="#cacaca" stroke-width="0.8"/>
<line x1="383.60" y1="85.22" x2="413.10" y2="57.44" stroke="#cacaca" stroke-width="0.8"/>
<line x1="413.10" y1="68.82" x2="687" y2="68.82" stroke="#e8e8e8" stroke-width="0.8"/>
<line x1="383.60" y1="96.65" x2="413.10" y2="68.82" stroke="#e8e8e8" stroke-width="0.8"/>
<line x1="413.10" y1="80.21" x2="687" y2="80.21" stroke="#cacaca" stroke-width="0.8"/>
<line x1="383.60" y1="108.08" x2="413.10" y2="80.21" stroke="#cacaca" stroke-width="0.8"/>
<line x1="413.10" y1="91.59" x2="687" y2="91.59" stroke="#e8e8e8" stroke-width="0.8"/>
<line x1="383.60" y1="119.51" x2="413.10" y2="91.59" stroke="#e8e8e8" stroke-width="0.8"/>
<line x1="413.10" y1="102.98" x2="687" y2="102.98" stroke="#cacaca" stroke-width="0.8"/>
<line x1="383.60" y1="130.94" x2="413.10" y2="102.98" stroke="#cacaca" stroke-width="0.8"/>
<line x1="413.10" y1="114.37" x2="687" y2="114.37" stroke="#e8e8e8" stroke-width="0.8"/>
<line x1="383.60" y1="142.37" x2="413.10" y2="114.37" stroke="#e8e8e8" stroke-width="0.8"/>
<line x1="413.10" y1="125.75" x2="687" y2="125.75" stroke="#cacaca" stroke-width="0.8"/>
<line x1="383.60" y1="153.80" x2="413.10" y2="125.75" stroke="#cacaca" stroke-width="0.8"/>
<line x1="413.10" y1="137.13" x2="687" y2="137.13" stroke="#e8e8e8" stroke-width="0.8"/>
<line x1="383.60" y1="165.23" x2="413.10" y2="137.13" stroke="#e8e8e8" stroke-width="0.8"/>
<line x1="413.10" y1="148.52" x2="687" y2="148.52" stroke="#cacaca" stroke-width="0.8"/>
<line x1="383.60" y1="176.66" x2="413.10" y2="148.52" stroke="#cacaca" stroke-width="0.8"/>
<line x1="413.10" y1="159.91" x2="687" y2="159.91" stroke="#e8e8e8" stroke-width="0.8"/>
<line x1="383.60" y1="188.09" x2="413.10" y2="159.91" stroke="#e8e8e8" stroke-width="0.8"/>
<line x1="413.10" y1="171.29" x2="687" y2="171.29" stroke="#cacaca" stroke-width="0.8"/>
<line x1="383.60" y1="199.52" x2="413.10" y2="171.29" stroke="#cacaca" stroke-width="0.8"/>
<line x1="413.10" y1="182.68" x2="687" y2="182.68" stroke="#e8e8e8" stroke-width="0.8"/>
<line x1="383.60" y1="210.95" x2="413.10" y2="182.68" stroke="#e8e8e8" stroke-width="0.8"/>
<line x1="413.10" y1="194.06" x2="687" y2="194.06" stroke="#cacaca" stroke-width="0.8"/>
<line x1="383.60" y1="222.38" x2="413.10" y2="194.06" stroke="#cacaca" stroke-width="0.8"/>
<line x1="413.10" y1="205.44" x2="687" y2="205.44" stroke="#e8e8e8" stroke-width="0.8"/>
<line x1="383.60" y1="233.81" x2="413.10" y2="205.44" stroke="#e8e8e8" stroke-width="0.8"/>
<line x1="413.10" y1="11.90" x2="413.10" y2="206.04" stroke="#cacaca" stroke-width="0.8"/>
<line x1="424.44" y1="11.90" x2="424.44" y2="206.04" stroke="#e8e8e8" stroke-width="0.8"/>
<line x1="435.78" y1="11.90" x2="435.78" y2="206.04" stroke="#cacaca" stroke-width="0.8"/>
<line x1="447.12" y1="11.90" x2="447.12" y2="206.04" stroke="#e8e8e8" stroke-width="0.8"/>
<line x1="458.46" y1="11.90" x2="458.46" y2="206.04" stroke="#cacaca" stroke-width="0.8"/>
<line x1="469.80" y1="11.90" x2="469.80" y2="206.04" stroke="#e8e8e8" stroke-width="0.8"/>
<line x1="481.14" y1="11.90" x2="481.14" y2="206.04" stroke="#cacaca" stroke-width="0.8"/>
<line x1="492.48" y1="11.90" x2="492.48" y2="206.04" stroke="#e8e8e8" stroke-width="0.8"/>
<line x1="503.82" y1="11.90" x2="503.82" y2="206.04" stroke="#cacaca" stroke-width="0.8"/>
<line x1="515.16" y1="11.90" x2="515.16" y2="206.04" stroke="#e8e8e8" stroke-width="0.8"/>
<line x1="526.50" y1="11.90" x2="526.50" y2="206.04" stroke="#cacaca" stroke-width="0.8"/>
<line x1="537.84" y1="11.90" x2="537.84" y2="206.04" stroke="#e8e8e8" stroke-width="0.8"/>
<line x1="549.18" y1="11.90" x2="549.18" y2="206.04" stroke="#cacaca" stroke-width="0.8"/>
<line x1="560.52" y1="11.90" x2="560.52" y2="206.04" stroke="#e8e8e8" stroke-width="0.8"/>
<line x1="571.86" y1="11.90" x2="571.86" y2="206.04" stroke="#cacaca" stroke-width="0.8"/>
<line x1="583.20" y1="11.90" x2="583.20" y2="206.04" stroke="#e8e8e8" stroke-width="0.8"/>
<line x1="594.54" y1="11.90" x2="594.54" y2="206.04" stroke="#cacaca" stroke-width="0.8"/>
<line x1="605.88" y1="11.90" x2="605.88" y2="206.04" stroke="#e8e8e8" stroke-width="0.8"/>
<line x1="617.22" y1="11.90" x2="617.22" y2="206.04" stroke="#cacaca" stroke-width="0.8"/>
<line x1="628.56" y1="11.90" x2="628.56" y2="206.04" stroke="#e8e8e8" stroke-width="0.8"/>
<line x1="639.90" y1="11.90" x2="639.90" y2="206.04" stroke="#cacaca" stroke-width="0.8"/>
<line x1="651.24" y1="11.90" x2="651.24" y2="206.04" stroke="#e8e8e8" stroke-width="0.8"/>
<line x1="662.58" y1="11.90" x2="662.58" y2="206.04" stroke="#cacaca" stroke-width="0.8"/>
<line x1="673.92" y1="11.90" x2="673.92" y2="206.04" stroke="#e8e8e8" stroke-width="0.8"/>
<line x1="685.26" y1="11.90" x2="685.26" y2="206.04" stroke="#cacaca" stroke-width="0.8"/>
<line x1="383.60" y1="236.40" x2="413.10" y2="206.04" stroke="#cacaca" stroke-width="0.8"/>
<line x1="655.6" y1="234.2" x2="686" y2="205.6" stroke="#bbb" stroke-width="0.8"/>
<line x1="655.6" y1="236.6" x2="686" y2="208.0" stroke="#ccc" stroke-width="0.8"/>
<line x1="383.60" y1="236.40" x2="656" y2="236.40" stroke="#ccc" stroke-width="0.8"/>
<path d="M416.40,223.40L421.30,218.90L421.30,127.36L416.40,131.86Z" fill="#CC8400"/>
<path d="M397.20,131.86L402.10,127.36L421.30,127.36L416.40,131.86Z" fill="#F29C00"/>
<rect x="397.20" y="131.86" width="19.2" height="91.54" fill="#FFA500"/>
<path d="M397.20,131.86L416.40,131.86L421.30,127.36" fill="none" stroke="#fff" stroke-opacity="0.35" stroke-width="0.5"/>
<path d="M439.07,223.40L443.97,218.90L443.97,132.93L439.07,137.43Z" fill="#CC8400"/>
<path d="M419.87,137.43L424.77,132.93L443.97,132.93L439.07,137.43Z" fill="#F29C00"/>
<rect x="419.87" y="137.43" width="19.2" height="85.97" fill="#FFA500"/>
<path d="M419.87,137.43L439.07,137.43L443.97,132.93" fill="none" stroke="#fff" stroke-opacity="0.35" stroke-width="0.5"/>
<path d="M461.74,223.40L466.64,218.90L466.64,43.00L461.74,47.50Z" fill="#CC8400"/>
<path d="M442.54,47.50L447.44,43.00L466.64,43.00L461.74,47.50Z" fill="#F29C00"/>
<rect x="442.54" y="47.50" width="19.2" height="175.90" fill="#FFA500"/>
<path d="M442.54,47.50L461.74,47.50L466.64,43.00" fill="none" stroke="#fff" stroke-opacity="0.35" stroke-width="0.5"/>
<path d="M484.41,223.40L489.31,218.90L489.31,215.55L484.41,220.05Z" fill="#CC8400"/>
<path d="M465.21,220.05L470.11,215.55L489.31,215.55L484.41,220.05Z" fill="#F29C00"/>
<rect x="465.21" y="220.05" width="19.2" height="3.35" fill="#FFA500"/>
<path d="M465.21,220.05L484.41,220.05L489.31,215.55" fill="none" stroke="#fff" stroke-opacity="0.35" stroke-width="0.5"/>
<path d="M507.08,223.40L511.98,218.90L511.98,217.26L507.08,221.76Z" fill="#CC8400"/>
<path d="M487.88,221.76L492.78,217.26L511.98,217.26L507.08,221.76Z" fill="#F29C00"/>
<rect x="487.88" y="221.76" width="19.2" height="1.64" fill="#FFA500"/>
<path d="M487.88,221.76L507.08,221.76L511.98,217.26" fill="none" stroke="#fff" stroke-opacity="0.35" stroke-width="0.5"/>
<path d="M529.75,223.40L534.65,218.90L534.65,217.61L529.75,222.11Z" fill="#CC8400"/>
<path d="M510.55,222.11L515.45,217.61L534.65,217.61L529.75,222.11Z" fill="#F29C00"/>
<rect x="510.55" y="222.11" width="19.2" height="1.29" fill="#FFA500"/>
<path d="M510.55,222.11L529.75,222.11L534.65,217.61" fill="none" stroke="#fff" stroke-opacity="0.35" stroke-width="0.5"/>
<path d="M552.42,223.40L557.32,218.90L557.32,195.26L552.42,199.76Z" fill="#CC8400"/>
<path d="M533.22,199.76L538.12,195.26L557.32,195.26L552.42,199.76Z" fill="#F29C00"/>
<rect x="533.22" y="199.76" width="19.2" height="23.64" fill="#FFA500"/>
<path d="M533.22,199.76L552.42,199.76L557.32,195.26" fill="none" stroke="#fff" stroke-opacity="0.35" stroke-width="0.5"/>
<path d="M575.09,223.40L579.99,218.90L579.99,213.01L575.09,217.51Z" fill="#CC8400"/>
<path d="M555.89,217.51L560.79,213.01L579.99,213.01L575.09,217.51Z" fill="#F29C00"/>
<rect x="555.89" y="217.51" width="19.2" height="5.89" fill="#FFA500"/>
<path d="M555.89,217.51L575.09,217.51L579.99,213.01" fill="none" stroke="#fff" stroke-opacity="0.35" stroke-width="0.5"/>
<path d="M597.76,223.40L602.66,218.90L602.66,206.85L597.76,211.35Z" fill="#CC8400"/>
<path d="M578.56,211.35L583.46,206.85L602.66,206.85L597.76,211.35Z" fill="#F29C00"/>
<rect x="578.56" y="211.35" width="19.2" height="12.05" fill="#FFA500"/>
<path d="M578.56,211.35L597.76,211.35L602.66,206.85" fill="none" stroke="#fff" stroke-opacity="0.35" stroke-width="0.5"/>
<path d="M620.43,223.40L625.33,218.90L625.33,203.63L620.43,208.13Z" fill="#CC8400"/>
<path d="M601.23,208.13L606.13,203.63L625.33,203.63L620.43,208.13Z" fill="#F29C00"/>
<rect x="601.23" y="208.13" width="19.2" height="15.27" fill="#FFA500"/>
<path d="M601.23,208.13L620.43,208.13L625.33,203.63" fill="none" stroke="#fff" stroke-opacity="0.35" stroke-width="0.5"/>
<path d="M643.10,223.40L648.00,218.90L648.00,166.92L643.10,171.42Z" fill="#CC8400"/>
<path d="M623.90,171.42L628.80,166.92L648.00,166.92L643.10,171.42Z" fill="#F29C00"/>
<rect x="623.90" y="171.42" width="19.2" height="51.98" fill="#FFA500"/>
<path d="M623.90,171.42L643.10,171.42L648.00,166.92" fill="none" stroke="#fff" stroke-opacity="0.35" stroke-width="0.5"/>
<path d="M665.77,223.40L670.67,218.90L670.67,182.88L665.77,187.38Z" fill="#CC8400"/>
<path d="M646.57,187.38L651.47,182.88L670.67,182.88L665.77,187.38Z" fill="#F29C00"/>
<rect x="646.57" y="187.38" width="19.2" height="36.02" fill="#FFA500"/>
<path d="M646.57,187.38L665.77,187.38L670.67,182.88" fill="none" stroke="#fff" stroke-opacity="0.35" stroke-width="0.5"/>
<g transform="translate(409.70,120.26) rotate(-32)">
<text x="0.00" y="3.06" font-size="8.5" font-family="Liberation Sans, sans-serif" font-weight="normal" text-anchor="middle" fill="#111" stroke="#111" stroke-width="0.3">19,9</text>
</g>
<g transform="translate(432.37,125.83) rotate(-32)">
<text x="0.00" y="3.06" font-size="8.5" font-family="Liberation Sans, sans-serif" font-weight="normal" text-anchor="middle" fill="#111" stroke="#111" stroke-width="0.3">18,69</text>
</g>
<g transform="translate(455.04,35.90) rotate(-32)">
<text x="0.00" y="3.06" font-size="8.5" font-family="Liberation Sans, sans-serif" font-weight="normal" text-anchor="middle" fill="#111" stroke="#111" stroke-width="0.3">38,24</text>
</g>
<g transform="translate(477.71,208.45) rotate(-32)">
<text x="0.00" y="3.06" font-size="8.5" font-family="Liberation Sans, sans-serif" font-weight="normal" text-anchor="middle" fill="#111" stroke="#111" stroke-width="0.3">0,729</text>
</g>
<g transform="translate(500.38,210.16) rotate(-32)">
<text x="0.00" y="3.06" font-size="8.5" font-family="Liberation Sans, sans-serif" font-weight="normal" text-anchor="middle" fill="#111" stroke="#111" stroke-width="0.3">0,356</text>
</g>
<g transform="translate(523.05,210.51) rotate(-32)">
<text x="0.00" y="3.06" font-size="8.5" font-family="Liberation Sans, sans-serif" font-weight="normal" text-anchor="middle" fill="#111" stroke="#111" stroke-width="0.3">0,28</text>
</g>
<g transform="translate(545.72,188.16) rotate(-32)">
<text x="0.00" y="3.06" font-size="8.5" font-family="Liberation Sans, sans-serif" font-weight="normal" text-anchor="middle" fill="#111" stroke="#111" stroke-width="0.3">5,14</text>
</g>
<g transform="translate(568.39,205.91) rotate(-32)">
<text x="0.00" y="3.06" font-size="8.5" font-family="Liberation Sans, sans-serif" font-weight="normal" text-anchor="middle" fill="#111" stroke="#111" stroke-width="0.3">1,28</text>
</g>
<g transform="translate(591.06,199.75) rotate(-32)">
<text x="0.00" y="3.06" font-size="8.5" font-family="Liberation Sans, sans-serif" font-weight="normal" text-anchor="middle" fill="#111" stroke="#111" stroke-width="0.3">2,62</text>
</g>
<g transform="translate(613.73,196.53) rotate(-32)">
<text x="0.00" y="3.06" font-size="8.5" font-family="Liberation Sans, sans-serif" font-weight="normal" text-anchor="middle" fill="#111" stroke="#111" stroke-width="0.3">3,32</text>
</g>
<g transform="translate(636.40,159.82) rotate(-32)">
<text x="0.00" y="3.06" font-size="8.5" font-family="Liberation Sans, sans-serif" font-weight="normal" text-anchor="middle" fill="#111" stroke="#111" stroke-width="0.3">11,3</text>
</g>
<g transform="translate(659.07,175.78) rotate(-32)">
<text x="0.00" y="3.06" font-size="8.5" font-family="Liberation Sans, sans-serif" font-weight="normal" text-anchor="middle" fill="#111" stroke="#111" stroke-width="0.3">7,83</text>
</g>
<path d="M401.50,236.60L406.40,232.10L406.40,210.26L401.50,214.76Z" fill="#BE3C33"/>
<path d="M382.30,214.76L387.20,210.26L406.40,210.26L401.50,214.76Z" fill="#DA463C"/>
<rect x="382.30" y="214.76" width="19.2" height="21.84" fill="#E84A3F"/>
<path d="M382.30,214.76L401.50,214.76L406.40,210.26" fill="none" stroke="#fff" stroke-opacity="0.35" stroke-width="0.5"/>
<path d="M424.17,236.60L429.07,232.10L429.07,212.36L424.17,216.86Z" fill="#BE3C33"/>
<path d="M404.97,216.86L409.87,212.36L429.07,212.36L424.17,216.86Z" fill="#DA463C"/>
<rect x="404.97" y="216.86" width="19.2" height="19.74" fill="#E84A3F"/>
<path d="M404.97,216.86L424.17,216.86L429.07,212.36" fill="none" stroke="#fff" stroke-opacity="0.35" stroke-width="0.5"/>
<path d="M446.84,236.60L451.74,232.10L451.74,197.55L446.84,202.05Z" fill="#BE3C33"/>
<path d="M427.64,202.05L432.54,197.55L451.74,197.55L446.84,202.05Z" fill="#DA463C"/>
<rect x="427.64" y="202.05" width="19.2" height="34.55" fill="#E84A3F"/>
<path d="M427.64,202.05L446.84,202.05L451.74,197.55" fill="none" stroke="#fff" stroke-opacity="0.35" stroke-width="0.5"/>
<path d="M469.51,236.60L474.41,232.10L474.41,229.27L469.51,233.77Z" fill="#BE3C33"/>
<path d="M450.31,233.77L455.21,229.27L474.41,229.27L469.51,233.77Z" fill="#DA463C"/>
<rect x="450.31" y="233.77" width="19.2" height="2.83" fill="#E84A3F"/>
<path d="M450.31,233.77L469.51,233.77L474.41,229.27" fill="none" stroke="#fff" stroke-opacity="0.35" stroke-width="0.5"/>
<path d="M492.18,236.60L497.08,232.10L497.08,230.64L492.18,235.14Z" fill="#BE3C33"/>
<path d="M472.98,235.14L477.88,230.64L497.08,230.64L492.18,235.14Z" fill="#DA463C"/>
<rect x="472.98" y="235.14" width="19.2" height="1.46" fill="#E84A3F"/>
<path d="M472.98,235.14L492.18,235.14L497.08,230.64" fill="none" stroke="#fff" stroke-opacity="0.35" stroke-width="0.5"/>
<path d="M514.85,236.60L519.75,232.10L519.75,230.89L514.85,235.39Z" fill="#BE3C33"/>
<path d="M495.65,235.39L500.55,230.89L519.75,230.89L514.85,235.39Z" fill="#DA463C"/>
<rect x="495.65" y="235.39" width="19.2" height="1.21" fill="#E84A3F"/>
<path d="M495.65,235.39L514.85,235.39L519.75,230.89" fill="none" stroke="#fff" stroke-opacity="0.35" stroke-width="0.5"/>
<path d="M537.52,236.60L542.42,232.10L542.42,209.25L537.52,213.75Z" fill="#BE3C33"/>
<path d="M518.32,213.75L523.22,209.25L542.42,209.25L537.52,213.75Z" fill="#DA463C"/>
<rect x="518.32" y="213.75" width="19.2" height="22.85" fill="#E84A3F"/>
<path d="M518.32,213.75L537.52,213.75L542.42,209.25" fill="none" stroke="#fff" stroke-opacity="0.35" stroke-width="0.5"/>
<path d="M560.19,236.60L565.09,232.10L565.09,225.47L560.19,229.97Z" fill="#BE3C33"/>
<path d="M540.99,229.97L545.89,225.47L565.09,225.47L560.19,229.97Z" fill="#DA463C"/>
<rect x="540.99" y="229.97" width="19.2" height="6.63" fill="#E84A3F"/>
<path d="M540.99,229.97L560.19,229.97L565.09,225.47" fill="none" stroke="#fff" stroke-opacity="0.35" stroke-width="0.5"/>
<path d="M582.86,236.60L587.76,232.10L587.76,224.24L582.86,228.74Z" fill="#BE3C33"/>
<path d="M563.66,228.74L568.56,224.24L587.76,224.24L582.86,228.74Z" fill="#DA463C"/>
<rect x="563.66" y="228.74" width="19.2" height="7.86" fill="#E84A3F"/>
<path d="M563.66,228.74L582.86,228.74L587.76,224.24" fill="none" stroke="#fff" stroke-opacity="0.35" stroke-width="0.5"/>
<path d="M605.53,236.60L610.43,232.10L610.43,223.65L605.53,228.15Z" fill="#BE3C33"/>
<path d="M586.33,228.15L591.23,223.65L610.43,223.65L605.53,228.15Z" fill="#DA463C"/>
<rect x="586.33" y="228.15" width="19.2" height="8.45" fill="#E84A3F"/>
<path d="M586.33,228.15L605.53,228.15L610.43,223.65" fill="none" stroke="#fff" stroke-opacity="0.35" stroke-width="0.5"/>
<path d="M628.20,236.60L633.10,232.10L633.10,208.56L628.20,213.06Z" fill="#BE3C33"/>
<path d="M609.00,213.06L613.90,208.56L633.10,208.56L628.20,213.06Z" fill="#DA463C"/>
<rect x="609.00" y="213.06" width="19.2" height="23.54" fill="#E84A3F"/>
<path d="M609.00,213.06L628.20,213.06L633.10,208.56" fill="none" stroke="#fff" stroke-opacity="0.35" stroke-width="0.5"/>
<path d="M650.87,236.60L655.77,232.10L655.77,200.34L650.87,204.84Z" fill="#BE3C33"/>
<path d="M631.67,204.84L636.57,200.34L655.77,200.34L650.87,204.84Z" fill="#DA463C"/>
<rect x="631.67" y="204.84" width="19.2" height="31.76" fill="#E84A3F"/>
<path d="M631.67,204.84L650.87,204.84L655.77,200.34" fill="none" stroke="#fff" stroke-opacity="0.35" stroke-width="0.5"/>
<g transform="translate(394.80,204.66) rotate(-45)">
<text x="0.00" y="2.59" font-size="7.2" font-family="Liberation Sans, sans-serif" font-weight="bold" text-anchor="middle" fill="#111"  stroke="#111" stroke-width="0.16">4,78</text>
</g>
<g transform="translate(417.47,206.76) rotate(-45)">
<text x="0.00" y="2.59" font-size="7.2" font-family="Liberation Sans, sans-serif" font-weight="bold" text-anchor="middle" fill="#111"  stroke="#111" stroke-width="0.16">4,32</text>
</g>
<g transform="translate(440.14,191.95) rotate(-45)">
<text x="0.00" y="2.59" font-size="7.2" font-family="Liberation Sans, sans-serif" font-weight="bold" text-anchor="middle" fill="#111"  stroke="#111" stroke-width="0.16">7,56</text>
</g>
<g transform="translate(462.81,223.67) rotate(-45)">
<text x="0.00" y="2.59" font-size="7.2" font-family="Liberation Sans, sans-serif" font-weight="bold" text-anchor="middle" fill="#111"  stroke="#111" stroke-width="0.16">0,62</text>
</g>
<g transform="translate(485.48,225.04) rotate(-45)">
<text x="0.00" y="2.59" font-size="7.2" font-family="Liberation Sans, sans-serif" font-weight="bold" text-anchor="middle" fill="#111"  stroke="#111" stroke-width="0.16">0,32</text>
</g>
<g transform="translate(508.15,225.29) rotate(-45)">
<text x="0.00" y="2.59" font-size="7.2" font-family="Liberation Sans, sans-serif" font-weight="bold" text-anchor="middle" fill="#111"  stroke="#111" stroke-width="0.16">0,265</text>
</g>
<g transform="translate(528.32,205.65) rotate(-38)">
<text x="0.00" y="2.59" font-size="7.2" font-family="Liberation Sans, sans-serif" font-weight="bold" text-anchor="middle" fill="#111"  stroke="#111" stroke-width="0.16">0,29907</text>
</g>
<g transform="translate(553.49,219.87) rotate(-45)">
<text x="0.00" y="2.59" font-size="7.2" font-family="Liberation Sans, sans-serif" font-weight="bold" text-anchor="middle" fill="#111"  stroke="#111" stroke-width="0.16">1,41</text>
</g>
<g transform="translate(576.16,218.64) rotate(-45)">
<text x="0.00" y="2.59" font-size="7.2" font-family="Liberation Sans, sans-serif" font-weight="bold" text-anchor="middle" fill="#111"  stroke="#111" stroke-width="0.16">1,95</text>
</g>
<g transform="translate(598.83,218.05) rotate(-45)">
<text x="0.00" y="2.59" font-size="7.2" font-family="Liberation Sans, sans-serif" font-weight="bold" text-anchor="middle" fill="#111"  stroke="#111" stroke-width="0.16">1,95</text>
</g>
<g transform="translate(621.50,202.96) rotate(-45)">
<text x="0.00" y="2.59" font-size="7.2" font-family="Liberation Sans, sans-serif" font-weight="bold" text-anchor="middle" fill="#111"  stroke="#111" stroke-width="0.16">5,23</text>
</g>
<g transform="translate(644.17,194.74) rotate(-45)">
<text x="0.00" y="2.59" font-size="7.2" font-family="Liberation Sans, sans-serif" font-weight="bold" text-anchor="middle" fill="#111"  stroke="#111" stroke-width="0.16">6,95</text>
</g>
<line x1="383.60" y1="39.50" x2="383.60" y2="211.66" stroke="#222" stroke-width="0.9"/>
<line x1="383.60" y1="39.50" x2="385.80" y2="39.50" stroke="#222" stroke-width="0.8"/>
<line x1="383.60" y1="50.93" x2="387.20" y2="50.93" stroke="#222" stroke-width="0.8"/>
<line x1="383.60" y1="62.36" x2="385.80" y2="62.36" stroke="#222" stroke-width="0.8"/>
<line x1="383.60" y1="73.79" x2="387.20" y2="73.79" stroke="#222" stroke-width="0.8"/>
<line x1="383.60" y1="85.22" x2="385.80" y2="85.22" stroke="#222" stroke-width="0.8"/>
<line x1="383.60" y1="96.65" x2="387.20" y2="96.65" stroke="#222" stroke-width="0.8"/>
<line x1="383.60" y1="108.08" x2="385.80" y2="108.08" stroke="#222" stroke-width="0.8"/>
<line x1="383.60" y1="119.51" x2="387.20" y2="119.51" stroke="#222" stroke-width="0.8"/>
<line x1="383.60" y1="130.94" x2="385.80" y2="130.94" stroke="#222" stroke-width="0.8"/>
<line x1="383.60" y1="142.37" x2="387.20" y2="142.37" stroke="#222" stroke-width="0.8"/>
<line x1="383.60" y1="153.80" x2="385.80" y2="153.80" stroke="#222" stroke-width="0.8"/>
<line x1="383.60" y1="165.23" x2="387.20" y2="165.23" stroke="#222" stroke-width="0.8"/>
<line x1="383.60" y1="176.66" x2="385.80" y2="176.66" stroke="#222" stroke-width="0.8"/>
<line x1="383.60" y1="188.09" x2="387.20" y2="188.09" stroke="#222" stroke-width="0.8"/>
<line x1="383.60" y1="199.52" x2="385.80" y2="199.52" stroke="#222" stroke-width="0.8"/>
<line x1="383.60" y1="210.95" x2="387.20" y2="210.95" stroke="#222" stroke-width="0.8"/>
<text x="378.90" y="237.70" font-size="10.6" font-family="Liberation Sans, sans-serif" font-weight="bold" text-anchor="end" fill="#111" textLength="4.95" lengthAdjust="spacingAndGlyphs"  stroke="#111" stroke-width="0.10">0</text>
<text x="378.90" y="214.85" font-size="10.6" font-family="Liberation Sans, sans-serif" font-weight="bold" text-anchor="end" fill="#111" textLength="4.95" lengthAdjust="spacingAndGlyphs"  stroke="#111" stroke-width="0.10">5</text>
<text x="378.90" y="192.00" font-size="10.6" font-family="Liberation Sans, sans-serif" font-weight="bold" text-anchor="end" fill="#111" textLength="9.90" lengthAdjust="spacingAndGlyphs"  stroke="#111" stroke-width="0.10">10</text>
<text x="378.90" y="169.15" font-size="10.6" font-family="Liberation Sans, sans-serif" font-weight="bold" text-anchor="end" fill="#111" textLength="9.90" lengthAdjust="spacingAndGlyphs"  stroke="#111" stroke-width="0.10">15</text>
<text x="378.90" y="146.30" font-size="10.6" font-family="Liberation Sans, sans-serif" font-weight="bold" text-anchor="end" fill="#111" textLength="9.90" lengthAdjust="spacingAndGlyphs"  stroke="#111" stroke-width="0.10">20</text>
<text x="378.90" y="123.45" font-size="10.6" font-family="Liberation Sans, sans-serif" font-weight="bold" text-anchor="end" fill="#111" textLength="9.90" lengthAdjust="spacingAndGlyphs"  stroke="#111" stroke-width="0.10">25</text>
<text x="378.90" y="100.60" font-size="10.6" font-family="Liberation Sans, sans-serif" font-weight="bold" text-anchor="end" fill="#111" textLength="9.90" lengthAdjust="spacingAndGlyphs"  stroke="#111" stroke-width="0.10">30</text>
<text x="378.90" y="77.75" font-size="10.6" font-family="Liberation Sans, sans-serif" font-weight="bold" text-anchor="end" fill="#111" textLength="9.90" lengthAdjust="spacingAndGlyphs"  stroke="#111" stroke-width="0.10">35</text>
<text x="378.90" y="54.90" font-size="10.6" font-family="Liberation Sans, sans-serif" font-weight="bold" text-anchor="end" fill="#111" textLength="9.90" lengthAdjust="spacingAndGlyphs"  stroke="#111" stroke-width="0.10">40</text>
<text x="395.00" y="248.00" font-size="10.3" font-family="Liberation Sans, sans-serif" font-weight="bold" text-anchor="middle" fill="#111" textLength="4.85" lengthAdjust="spacingAndGlyphs"  stroke="#111" stroke-width="0.10">3</text>
<text x="417.58" y="248.00" font-size="10.3" font-family="Liberation Sans, sans-serif" font-weight="bold" text-anchor="middle" fill="#111" textLength="4.85" lengthAdjust="spacingAndGlyphs"  stroke="#111" stroke-width="0.10">4</text>
<text x="440.16" y="248.00" font-size="10.3" font-family="Liberation Sans, sans-serif" font-weight="bold" text-anchor="middle" fill="#111" textLength="4.85" lengthAdjust="spacingAndGlyphs"  stroke="#111" stroke-width="0.10">5</text>
<text x="462.74" y="248.00" font-size="10.3" font-family="Liberation Sans, sans-serif" font-weight="bold" text-anchor="middle" fill="#111" textLength="9.70" lengthAdjust="spacingAndGlyphs"  stroke="#111" stroke-width="0.10">13</text>
<text x="485.32" y="248.00" font-size="10.3" font-family="Liberation Sans, sans-serif" font-weight="bold" text-anchor="middle" fill="#111" textLength="9.70" lengthAdjust="spacingAndGlyphs"  stroke="#111" stroke-width="0.10">14</text>
<text x="507.90" y="248.00" font-size="10.3" font-family="Liberation Sans, sans-serif" font-weight="bold" text-anchor="middle" fill="#111" textLength="9.70" lengthAdjust="spacingAndGlyphs"  stroke="#111" stroke-width="0.10">15</text>
<text x="530.48" y="248.00" font-size="10.3" font-family="Liberation Sans, sans-serif" font-weight="bold" text-anchor="middle" fill="#111" textLength="9.70" lengthAdjust="spacingAndGlyphs"  stroke="#111" stroke-width="0.10">23</text>
<text x="553.06" y="248.00" font-size="10.3" font-family="Liberation Sans, sans-serif" font-weight="bold" text-anchor="middle" fill="#111" textLength="9.70" lengthAdjust="spacingAndGlyphs"  stroke="#111" stroke-width="0.10">24</text>
<text x="575.64" y="248.00" font-size="10.3" font-family="Liberation Sans, sans-serif" font-weight="bold" text-anchor="middle" fill="#111" textLength="9.70" lengthAdjust="spacingAndGlyphs"  stroke="#111" stroke-width="0.10">25</text>
<text x="598.22" y="248.00" font-size="10.3" font-family="Liberation Sans, sans-serif" font-weight="bold" text-anchor="middle" fill="#111" textLength="9.70" lengthAdjust="spacingAndGlyphs"  stroke="#111" stroke-width="0.10">26</text>
<text x="620.80" y="248.00" font-size="10.3" font-family="Liberation Sans, sans-serif" font-weight="bold" text-anchor="middle" fill="#111" textLength="9.70" lengthAdjust="spacingAndGlyphs"  stroke="#111" stroke-width="0.10">27</text>
<text x="643.38" y="248.00" font-size="10.3" font-family="Liberation Sans, sans-serif" font-weight="bold" text-anchor="middle" fill="#111" textLength="9.70" lengthAdjust="spacingAndGlyphs"  stroke="#111" stroke-width="0.10">28</text>
<text x="534.00" y="7.80" font-size="8.5" font-family="Liberation Serif, serif" font-weight="bold" text-anchor="middle" fill="#111" textLength="179.30" lengthAdjust="spacingAndGlyphs"  stroke="#111" stroke-width="0.19">Active Power Loss for IEEE 33 Bus Using MGWO</text>
<text x="519.60" y="262.60" font-size="11.8" font-family="Liberation Serif, serif" font-weight="bold" text-anchor="middle" fill="#111" textLength="66.00" lengthAdjust="spacingAndGlyphs"  stroke="#111" stroke-width="0.26">Bus Location</text>
<g transform="translate(364.2,132.0) rotate(-90)">
<text x="0.00" y="0.00" font-size="11.0" font-family="Liberation Serif, serif" font-weight="bold" text-anchor="middle" fill="#111" textLength="120.00" lengthAdjust="spacingAndGlyphs" stroke="#111" stroke-width="0.2">Active Power Loss (kw)</text>
</g>
<rect x="617.5" y="12.0" width="70" height="31.8" rx="2" fill="#fff" stroke="#d8d8d8" stroke-width="0.8"/>
<rect x="620.8" y="15.8" width="12.4" height="10.4" fill="#FFA500"/>
<rect x="620.8" y="30.8" width="12.4" height="10.4" fill="#E84A3F"/>
<text x="638.00" y="24.60" font-size="10" font-family="Liberation Serif, serif" font-weight="normal" text-anchor="start" fill="#111" >Base Case</text>
<text x="638.00" y="39.60" font-size="10" font-family="Liberation Serif, serif" font-weight="normal" text-anchor="start" fill="#111" >With 4 DG</text>
</g>
</svg>
</body></html>
